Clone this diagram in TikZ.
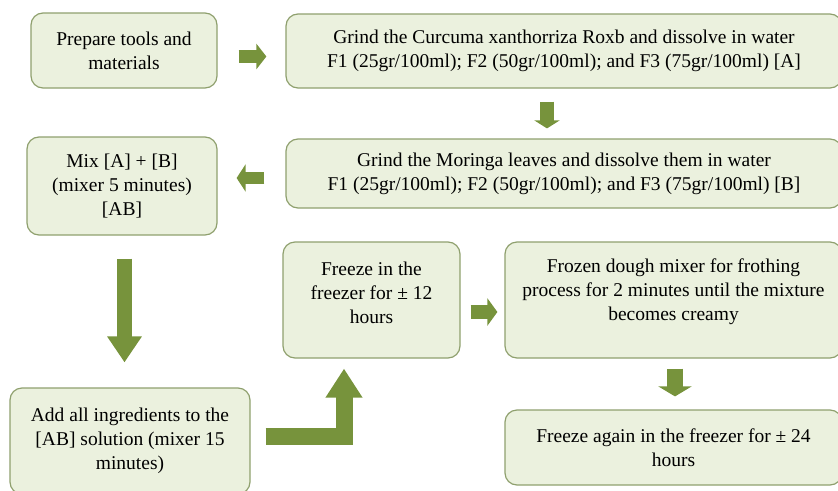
\documentclass[tikz,border=0pt]{standalone}
\usepackage{fontspec}
\setmainfont{Liberation Serif}
\usetikzlibrary{arrows.meta}
\definecolor{boxfill}{RGB}{235,241,222}
\definecolor{boxline}{RGB}{143,160,110}
\definecolor{arrowgreen}{RGB}{119,147,60}
\begin{document}
\begin{tikzpicture}[x=1pt, y=-1pt,
  box/.style={draw=boxline, line width=1.2pt, fill=boxfill, rounded corners=12pt, align=center, inner sep=0pt, font=\fontsize{19.5}{24}\selectfont},
  flow/.style args={#1/#2/#3}{draw=arrowgreen, line width=#1, line join=miter, -{Triangle[width=#2, length=#3]}}]
\clip (0,0) rectangle (838,490);
\node[box, minimum width=186pt, minimum height=75pt] (prep) at (124,50.5){Prepare tools and\\materials};
\node[box, minimum width=556pt, minimum height=74pt] (curc) at (564,51){Grind the Curcuma xanthorriza Roxb and dissolve in water\\F1 (25gr/100ml); F2 (50gr/100ml); and F3 (75gr/100ml) [A]};
\node[box, minimum width=556pt, minimum height=69pt] (mor) at (564,173.5){Grind the Moringa leaves and dissolve them in water\\F1 (25gr/100ml); F2 (50gr/100ml); and F3 (75gr/100ml) [B]};
\node[box, minimum width=190pt, minimum height=98pt] (mix) at (122,186){Mix [A] + [B]\\(mixer 5 minutes)\\{}[AB]};
\node[box, minimum width=240pt, minimum height=106pt] (add) at (130,441){Add all ingredients to the\\{}[AB] solution (mixer 15\\minutes)};
\node[box, minimum width=177pt, minimum height=116pt] (frz) at (371.5,300){Freeze in the\\freezer for ± 12\\hours\\[-10pt]\mbox{}};
\node[box, minimum width=337pt, minimum height=116pt] (froth) at (673.5,300){Frozen dough mixer for frothing\\process for 2 minutes until the mixture\\becomes creamy\\[-4pt]\mbox{}};
\node[box, minimum width=337pt, minimum height=75pt] (frz2) at (673.5,447.5){Freeze again in the freezer for ± 24\\hours};
\draw[flow=13pt/25pt/10pt, shorten <=21pt, shorten >=19pt] ([yshift=-6pt]prep.east) -- ([yshift=-6pt]prep.east -| curc.west);
\draw[flow=14pt/25pt/8pt, shorten <=13pt, shorten >=10pt] ([xshift=-17pt]curc.south) -- ([xshift=-17pt]curc.south |- mor.north);
\draw[flow=12pt/27pt/9pt, shorten <=21pt, shorten >=19pt] ([yshift=-4.5pt]mor.west) -- ([yshift=-4.5pt]mor.west -| mix.east);
\draw[flow=15pt/33pt/26pt, shorten <=23pt, shorten >=25pt] ([xshift=2.5pt]mix.south) -- ([xshift=2.5pt]mix.south |- add.north);
\draw[flow=17pt/35pt/29pt, shorten <=15pt, shorten >=10pt] ([yshift=4.5pt]add.east) -| ([xshift=-27.5pt]frz.south);
\draw[flow=14pt/27pt/10pt, shorten <=10pt, shorten >=7pt] ([yshift=-12pt]frz.east) -- ([yshift=-12pt]frz.east -| froth.west);
\draw[flow=16pt/33pt/10pt, shorten <=10pt, shorten >=13pt] ([xshift=1.5pt]froth.south) -- ([xshift=1.5pt]froth.south |- frz2.north);
\end{tikzpicture}
\end{document}
